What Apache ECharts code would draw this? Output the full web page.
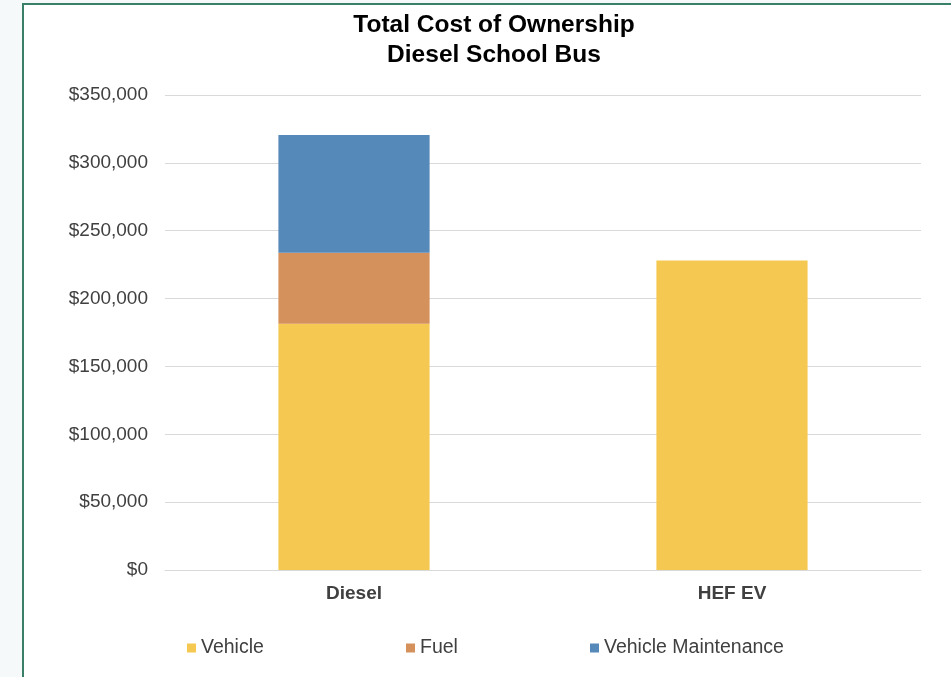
<!DOCTYPE html>
<html>
<head>
<meta charset="utf-8">
<script src="https://cdn.jsdelivr.net/npm/echarts@6/dist/echarts.min.js"></script>
<style>
  html, body { margin: 0; padding: 0; width: 951px; height: 677px; overflow: hidden; background: #f5f9f9; }
  #main {
    position: absolute; left: 22px; top: 3px; width: 940px; height: 700px;
    border-left: 2px solid #3a8069; border-top: 2px solid #3a8069; background: #fff;
  }
</style>
</head>
<body>
<div id="main"></div>
<script>
var categories = ['Diesel', 'HEF EV'];
var vehicle = [181500, 228000];
var fuel = [52300, 0];
var maintenance = [86700, 0];
var seriesNames = ['Vehicle', 'Fuel', 'Vehicle Maintenance'];
var colors = ['#f5c951', '#d4915c', '#5589ba'];

var myChart = echarts.init(document.getElementById('main'));
var labelFont = 'Liberation Sans, Arial, sans-serif';

function legendAt(name, x) {
    return {
        data: [name],
        left: x,
        top: 628,
        icon: 'rect',
        itemWidth: 9,
        itemHeight: 9,
        selectedMode: false,
        textStyle: { fontSize: 19.5, color: '#404040', fontFamily: labelFont }
    };
}

var option = {
    animation: false,
    color: colors,
    title: {
        text: 'Total Cost of Ownership\nDiesel School Bus',
        left: 465,
        top: 0,
        textAlign: 'center',
        textStyle: {
            fontSize: 24.5,
            fontWeight: 'bold',
            color: '#000',
            lineHeight: 30,
            fontFamily: labelFont
        }
    },
    legend: [
        legendAt(seriesNames[0], 158),
        legendAt(seriesNames[1], 377),
        legendAt(seriesNames[2], 561)
    ],
    grid: { left: 141, top: 90, width: 756, height: 475 },
    xAxis: {
        type: 'category',
        data: categories,
        axisTick: { show: false },
        axisLine: { lineStyle: { color: '#d9d9d9' } },
        axisLabel: { margin: 14, fontSize: 19, fontWeight: 'bold', color: '#404040', fontFamily: labelFont }
    },
    yAxis: {
        type: 'value',
        min: 0,
        max: 350000,
        interval: 50000,
        axisLine: { show: false },
        axisTick: { show: false },
        splitLine: { lineStyle: { color: '#d9d9d9' } },
        axisLabel: {
            margin: 17,
            fontSize: 19,
            color: '#404040',
            fontFamily: labelFont,
            formatter: function (v) { return '$' + v.toLocaleString('en-US'); }
        }
    },
    series: [
        { name: seriesNames[0], type: 'bar', stack: 'tco', barWidth: '40%', data: vehicle },
        { name: seriesNames[1], type: 'bar', stack: 'tco', data: fuel },
        { name: seriesNames[2], type: 'bar', stack: 'tco', data: maintenance }
    ]
};
myChart.setOption(option);
</script>
</body>
</html>
